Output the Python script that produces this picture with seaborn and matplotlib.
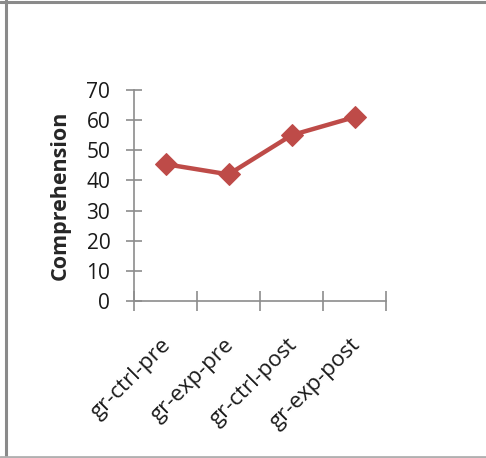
import matplotlib
matplotlib.use("Agg")
import matplotlib.pyplot as plt
import matplotlib.transforms as mtransforms
from matplotlib.lines import Line2D
import seaborn as sns
import pandas as pd

groups = ["gr-ctrl-pre", "gr-exp-pre", "gr-ctrl-post", "gr-exp-post"]
scores = [45.4, 42.0, 55.0, 61.0]
y_ticks = [0, 10, 20, 30, 40, 50, 60, 70]

sns.set_style("white")
plt.rcParams["font.family"] = ["Open Sans", "DejaVu Sans"]

df = pd.DataFrame({"group": groups, "score": scores})

fig = plt.figure(figsize=(4.86, 4.58), dpi=100)
ax = fig.add_axes([134 / 486, 1 - 301 / 458, 252 / 486, 211 / 458])

sns.lineplot(data=df, x="group", y="score", ax=ax, color="#BE4B48",
             linewidth=3.2, marker="D", markersize=11.5,
             markeredgecolor="#BE4B48", sort=False)

ax.set_ylim(0, 70)
ax.set_yticks(y_ticks)
ax.set_xlim(-0.5, len(groups) - 0.5)

# category boundaries carry the tick marks, centres carry the labels
ax.set_xticks([i - 0.5 for i in range(len(groups) + 1)])
ax.set_xticklabels([])
ax.set_xticks(range(len(groups)), minor=True)
ax.set_xticklabels(groups, minor=True, rotation=45, ha="right",
                   rotation_mode="anchor", fontsize=16, color="#1a1a1a")
ax.tick_params(axis="x", which="minor", length=0, pad=24, bottom=True)
ax.tick_params(axis="x", which="major", direction="inout", length=14.4,
               width=1.2, color="#8C8C8C", bottom=True)
ax.tick_params(axis="y", direction="inout", length=12.2, width=1.2,
               color="#8C8C8C", labelsize=15, labelcolor="#1a1a1a", pad=11,
               left=True)

shift = mtransforms.ScaledTranslation(-5 / 100, 0, fig.dpi_scale_trans)
for lbl in ax.get_xticklabels(minor=True):
    lbl.set_transform(lbl.get_transform() + shift)

for side in ["top", "right"]:
    ax.spines[side].set_visible(False)
for side in ["left", "bottom"]:
    ax.spines[side].set_color("#8C8C8C")
    ax.spines[side].set_linewidth(1.2)

ax.set_xlabel("")
ax.set_ylabel("Comprehension", fontsize=15.5, fontweight="bold")
ax.yaxis.set_label_coords(-0.25, 0.5)

# outer chart frame
fig.add_artist(Line2D([5.5 / 486, 5.5 / 486], [0, 1], color="#8A8A8A",
                      linewidth=2.2, transform=fig.transFigure))
fig.add_artist(Line2D([0, 1], [1 - 1.5 / 458, 1 - 1.5 / 458], color="#8A8A8A",
                      linewidth=2.2, transform=fig.transFigure))
fig.add_artist(Line2D([0, 1], [1.5 / 458, 1.5 / 458], color="#B0B0B0",
                      linewidth=2.0, transform=fig.transFigure))

fig.savefig("out.png", dpi=100)
